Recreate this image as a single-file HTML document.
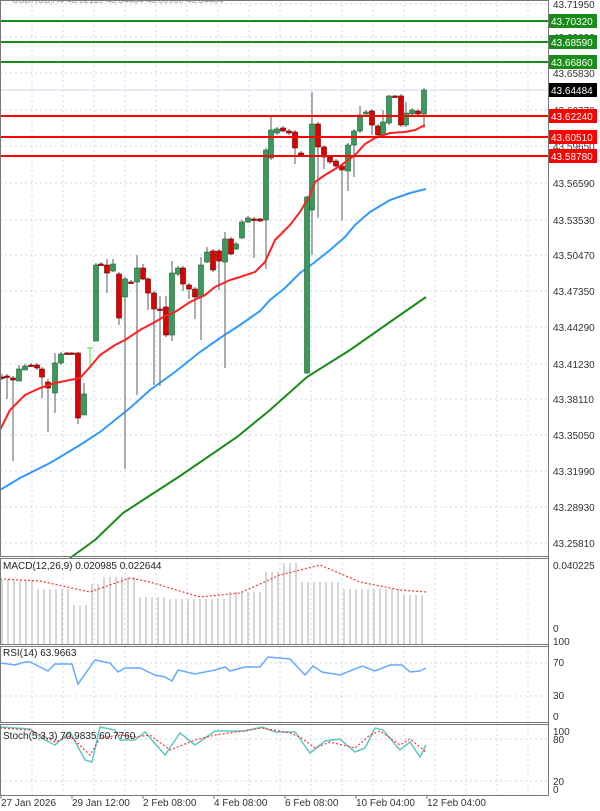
<!DOCTYPE html><html><head><meta charset="utf-8"><style>
body{margin:0;background:#fff;width:600px;height:811px;overflow:hidden}
svg{display:block;font-family:"Liberation Sans",sans-serif}
</style></head><body>
<svg id="s" width="600" height="811" xmlns="http://www.w3.org/2000/svg"></svg>
<script>
const s=document.getElementById('s');let h='';
const W=548;
const vx=[];for(let x=32;x<W;x+=31)vx.push(x);
const panels=[[0,556],[558,644],[646,722],[724,795]];
const pl=[[4,'43.71950'],[37,'43.69090'],[73,'43.65830'],[110,'43.62770'],[146,'43.59650'],[183,'43.56590'],[220,'43.53530'],[255,'43.50470'],[291,'43.47350'],[327,'43.44290'],[364,'43.41230'],[399,'43.38110'],[435,'43.35050'],[471,'43.31990'],[507,'43.28930'],[543,'43.25810']];
panels.forEach(p=>vx.forEach(x=>h+=`<line x1="${x}" y1="${p[0]}" x2="${x}" y2="${p[1]}" stroke="#c8d8ee" stroke-dasharray="2,3"/>`));
pl.forEach(p=>h+=`<line x1="0" y1="${p[0]}" x2="${W}" y2="${p[0]}" stroke="#c8d8ee" stroke-dasharray="2,3"/><text x="553" y="${p[0]+4}" font-size="10" fill="#333">${p[1]}</text>`);
[[663],[696],[739],[781]].forEach(p=>h+=`<line x1="0" y1="${p[0]}" x2="${W}" y2="${p[0]}" stroke="#c8d8ee" stroke-dasharray="2,3"/>`);
h+=`<line x1="0" y1="90" x2="${W}" y2="90" stroke="#cfd8e8"/>`;
const pth=(pts,c,w,d)=>`<polyline fill="none" stroke="${c}" stroke-width="${w}" ${d?'stroke-dasharray="'+d+'"':''} points="${pts.map(p=>p.join(',')).join(' ')}"/>`;
h+=pth([[0,490],[20,478],[50,463],[80,445],[100,432],[130,408],[150,390],[175,372],[200,352],[220,338],[240,325],[260,311],[270,300],[285,288],[300,273],[315,262],[330,250],[345,237],[355,225],[370,212],[390,200],[410,193],[426,189]],'#3399ff',2);
h+=pth([[70,558],[95,540],[123,513],[180,476],[237,437],[270,410],[307,377],[350,350],[390,322],[426,297]],'#1a8c1a',2);
const C=[[2,377,377,374,380],[7,376,376,374,399],[13,378,380,376,461],[19,381,369,365,381],[25,370,366,364,370],[31,365,365,363,367],[37,365,368,363,370],[42,369,377,367,398],[48,382,388,379,432],[55,393,363,353,413],[61,363,354,352,365],[67,353,353,352,355],[72,353,353,352,354],[78,353,418,352,424],[84,415,394,383,415],[96,341,265,263,341],[101,264,264,262,266],[107,265,273,259,293],[113,271,264,259,272],[119,274,318,272,325],[125,297,279,277,469],[131,282,282,280,284],[137,282,268,255,395],[143,268,279,264,280],[148,279,293,277,310],[154,293,309,291,385],[160,309,309,296,386],[166,307,335,296,337],[172,335,273,261,341],[178,274,268,266,276],[183,268,284,266,291],[189,285,289,283,299],[195,289,297,287,319],[201,297,265,257,340],[207,262,252,247,263],[213,251,270,249,272],[219,251,261,249,290],[225,262,239,232,368],[231,239,254,237,255],[236,249,244,242,250],[242,238,222,220,239],[248,222,218,216,223],[254,219,219,217,258],[260,219,221,218,222],[266,220,150,148,269],[271,158,130,115,160],[277,133,129,127,135],[283,128,131,126,132],[289,131,133,129,135],[295,132,148,130,164],[301,153,155,151,157],[307,373,197,196,374],[312,210,124,92,255],[318,124,147,122,218],[324,147,157,145,169],[330,157,162,155,164],[336,161,166,159,168],[342,166,170,164,220],[348,171,145,143,191],[354,145,131,129,177],[360,131,115,106,133],[366,114,112,110,116],[372,111,125,109,135],[378,126,135,124,137],[383,135,122,110,136],[389,123,96,95,125],[395,96,96,95,98],[401,96,125,94,127],[406,125,113,102,127],[412,114,110,108,116],[418,111,114,109,116],[424,114,90,88,128]];
C.forEach(c=>{const[x,o,cl,hi,lo]=c;const up=cl<o;const t=Math.min(o,cl),b=Math.max(o,cl);
h+=`<line x1="${x}" y1="${hi}" x2="${x}" y2="${lo}" stroke="#777" stroke-width="1.2"/>`;
h+=`<rect x="${x-2.5}" y="${t}" width="5" height="${Math.max(b-t,1.5)}" fill="${up?'#3a9a5c':'#dd0000'}" stroke="${up?'#1f5f35':'#660000'}" stroke-width="0.6"/>`;});
h+=`<line x1="90" y1="348" x2="90" y2="365" stroke="#44dd44"/><line x1="87" y1="348" x2="93" y2="348" stroke="#44dd44"/>`;
h+=pth([[0,430],[10,410],[25,395],[40,388],[55,383],[70,380],[80,378],[90,367],[100,355],[115,345],[125,340],[140,330],[155,322],[165,316],[175,312],[190,302],[205,295],[215,287],[230,280],[240,277],[255,272],[265,262],[275,240],[290,225],[300,212],[310,195],[315,182],[325,175],[340,166],[355,155],[365,144],[375,138],[390,133],[405,132],[415,130],[425,125]],'#ff2020',2);
[[21,'43.70320','#1a8c1a'],[42,'43.68590','#1a8c1a'],[62,'43.66860','#1a8c1a'],[116,'43.62240','#ff0000'],[137,'43.60510','#ff0000'],[156,'43.58780','#ff0000']].forEach(l=>{
h+=`<line x1="0" y1="${l[0]}" x2="${W}" y2="${l[0]}" stroke="${l[2]}" stroke-width="2"/><rect x="549" y="${l[0]-7}" width="48" height="14" fill="${l[2]}"/><text x="551" y="${l[0]+4}" font-size="10" fill="#fff">${l[1]}</text>`;});
h+=`<rect x="549" y="83" width="48" height="14" fill="#000"/><text x="551" y="94" font-size="10" fill="#fff">43.64484</text>`;
h+=`<text x="12" y="3" font-size="9" fill="#999">USDRUB,H4  43.62110  43.64484  43.60980  43.64484</text>`;
const mt=x=>x<35?580:x<70?589:x<88?605:x<100?584:x<140?577:x<170?597:x<230?599:x<265?592:x<280?572:x<300?563:x<340?582:x<400?589:595;
for(let x=2;x<=426;x+=6)h+=`<line x1="${x}" y1="${mt(x)}" x2="${x}" y2="644" stroke="#c8c8c8" stroke-width="1.5"/>`;
h+=pth([[0,579],[40,581],[90,592],[130,578],[150,582],[200,597],[240,593],[280,575],[320,565],[360,582],[400,590],[426,592]],'#ff3333',1.2,'2,2');
h+=`<text x="3" y="569" font-size="10" fill="#222">MACD(12,26,9) 0.020985 0.022644</text><text x="553" y="569" font-size="10" fill="#333">0.040225</text><text x="553" y="632" font-size="10" fill="#333">0</text>`;
h+=pth([[0,663],[15,665],[25,662],[30,662],[48,671],[55,664],[72,664],[78,684],[95,660],[110,663],[118,672],[125,668],[140,668],[155,675],[165,677],[172,681],[178,670],[195,674],[215,670],[225,667],[230,671],[245,667],[260,667],[268,657],[290,659],[305,675],[313,666],[322,672],[340,675],[362,666],[375,671],[390,665],[402,665],[410,672],[420,671],[426,668]],'#66aaff',1.5);
h+=`<text x="3" y="646" font-size="10" fill="#222" dy="10">RSI(14) 63.9663</text>`;
[[645,'100'],[666,'70'],[699,'30'],[720,'0']].forEach(p=>h+=`<text x="553" y="${p[0]}" font-size="10" fill="#333">${p[1]}</text>`);
h+=pth([[0,727],[30,729],[45,740],[55,745],[70,732],[85,760],[92,762],[100,727],[115,730],[120,740],[135,740],[145,732],[165,755],[180,733],[195,745],[215,731],[245,731],[262,727],[275,732],[295,732],[310,753],[325,741],[340,739],[355,752],[365,748],[375,728],[383,730],[400,750],[410,742],[420,757],[426,745]],'#5cc8c0',1.5);
h+=pth([[0,728],[30,730],[55,742],[70,736],[90,755],[100,738],[120,735],[135,737],[150,735],[170,750],[195,740],[215,735],[250,730],[262,728],[290,733],[300,737],[315,748],[330,742],[355,748],[370,735],[380,731],[400,745],[410,739],[426,752]],'#ff3333',1.2,'2,2');
h+=`<text x="3" y="739" font-size="10" fill="#222">Stoch(5,3,3) 70.9835 60.7760</text>`;
[[735,'100'],[743,'80'],[785,'20'],[793,'0']].forEach(p=>h+=`<text x="553" y="${p[0]}" font-size="10" fill="#333">${p[1]}</text>`);
panels.forEach(p=>h+=`<rect x="0.5" y="${p[0]+0.5}" width="${W}" height="${p[1]-p[0]}" fill="none" stroke="#777"/>`);
h+=`<line x1="548.5" y1="0" x2="548.5" y2="795" stroke="#777"/>`;
[[0,'27 Jan 2026'],[71,'29 Jan 12:00'],[142,'2 Feb 08:00'],[213,'4 Feb 08:00'],[284,'6 Feb 08:00'],[355,'10 Feb 04:00'],[426,'12 Feb 04:00']].forEach(p=>h+=`<line x1="${p[0]+1}" y1="795" x2="${p[0]+1}" y2="799" stroke="#777"/><text x="${p[0]+1}" y="806" font-size="10" fill="#333">${p[1]}</text>`);
s.innerHTML=h;
</script>
</body></html>
